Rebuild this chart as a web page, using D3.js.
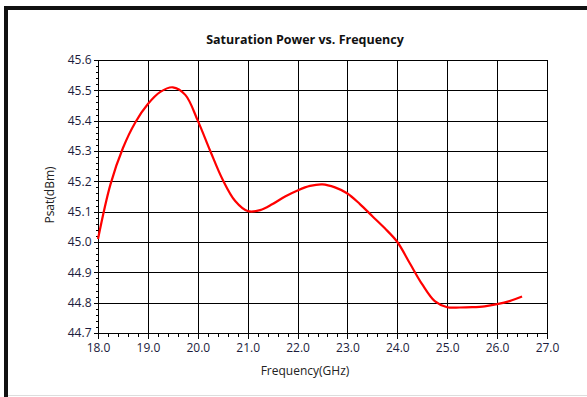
<!DOCTYPE html>
<html><head><meta charset="utf-8">
<script src="https://cdn.jsdelivr.net/npm/d3@7"></script>
<style>body{margin:0;background:#fff}svg{display:block}</style>
</head><body>
<svg id="c" width="587" height="397"></svg>
<script>
const freq = [18.0,18.25,18.5,18.75,19.0,19.25,19.5,19.75,20.0,20.25,20.5,20.75,21.0,21.25,21.5,21.75,22.0,22.25,22.5,22.75,23.0,23.25,23.5,23.75,24.0,24.25,24.5,24.75,25.0,25.25,25.5,25.75,26.0,26.25,26.5];
const psat = [45.01,45.19,45.31,45.395,45.455,45.495,45.51,45.485,45.40,45.30,45.205,45.135,45.102,45.105,45.125,45.15,45.17,45.185,45.19,45.18,45.16,45.125,45.085,45.045,45.00,44.93,44.86,44.805,44.785,44.784,44.785,44.788,44.795,44.805,44.82];
const xTicks = [18,19,20,21,22,23,24,25,26,27];
const yTicks = [44.7,44.8,44.9,45.0,45.1,45.2,45.3,45.4,45.5,45.6];

const svg = d3.select("#c");
const font = "'Open Sans', 'Noto Sans', sans-serif";
const L=98, R=547, T=60, B=333;
const x = d3.scaleLinear().domain([18,27]).range([L,R]);
const y = d3.scaleLinear().domain([44.7,45.6]).range([B,T]);

// outer frame
svg.append("rect").attr("x",4).attr("y",6).attr("width",600).attr("height",4).attr("fill","#111");
svg.append("rect").attr("x",4).attr("y",6).attr("width",4).attr("height",400).attr("fill","#111");
svg.append("line").attr("x1",8).attr("x2",587).attr("y1",395.5).attr("y2",395.5).attr("stroke","#ddd");

// grid
const g = svg.append("g").attr("shape-rendering","crispEdges");
g.selectAll(".vx").data(xTicks).join("line")
  .attr("x1",d=>Math.round(x(d))+0.5).attr("x2",d=>Math.round(x(d))+0.5)
  .attr("y1",T).attr("y2",B).attr("stroke","#000");
g.selectAll(".hy").data(yTicks).join("line")
  .attr("y1",d=>Math.round(y(d))+0.5).attr("y2",d=>Math.round(y(d))+0.5)
  .attr("x1",L).attr("x2",R).attr("stroke","#000");

// axes
const xMinor = d3.range(18,27.0001,0.2);
const yMinor = d3.range(44.7,45.6001,0.02);
const xa = svg.append("g").attr("transform",`translate(0,${B+0.5})`)
  .call(d3.axisBottom(x).tickValues(xMinor).tickSize(3).tickFormat(""));
xa.select(".domain").remove();
const xb = svg.append("g").attr("transform",`translate(0,${B+0.5})`)
  .call(d3.axisBottom(x).tickValues(xTicks).tickSize(5).tickFormat(d3.format(".1f")));
xb.select(".domain").remove();
xb.selectAll("text").attr("font-family",font).attr("font-size",12).attr("fill","#1c1c3c").attr("dy","0.9em");
const ya = svg.append("g").attr("transform",`translate(${L+0.5},0)`)
  .call(d3.axisLeft(y).tickValues(yMinor).tickSize(3).tickFormat(""));
ya.select(".domain").remove();
const yb = svg.append("g").attr("transform",`translate(${L+0.5},0)`)
  .call(d3.axisLeft(y).tickValues(yTicks).tickSize(5).tickFormat(d3.format(".1f")));
yb.select(".domain").remove();
yb.selectAll("text").attr("font-family",font).attr("font-size",12).attr("fill","#1c1c3c").attr("x",-7);
svg.selectAll(".tick line").attr("stroke","#000").attr("shape-rendering","crispEdges");

// plot border
svg.append("rect").attr("x",L+0.5).attr("y",T+0.5).attr("width",R-L).attr("height",B-T)
  .attr("fill","none").attr("stroke","#000").attr("shape-rendering","crispEdges");

// curve
const data = freq.map((f,i)=>({f, v:psat[i]}));
svg.append("path").datum(data)
  .attr("d", d3.line().x(d=>x(d.f)).y(d=>y(d.v)).curve(d3.curveCatmullRom.alpha(0.5)))
  .attr("fill","none").attr("stroke","#ff0000").attr("stroke-width",2.2);

// texts
svg.append("text").attr("x",305).attr("y",44).attr("text-anchor","middle")
  .attr("font-family",font).attr("font-weight","bold").attr("font-size",12.5).attr("fill","#111")
  .text("Saturation Power vs. Frequency");
svg.append("text").attr("x",305).attr("y",375).attr("text-anchor","middle")
  .attr("font-family",font).attr("font-size",12).attr("fill","#222").text("Frequency(GHz)");
svg.append("text").attr("transform","translate(54,195) rotate(-90)").attr("text-anchor","middle")
  .attr("font-family",font).attr("font-size",12).attr("fill","#222").text("Psat(dBm)");
</script>
</body></html>
